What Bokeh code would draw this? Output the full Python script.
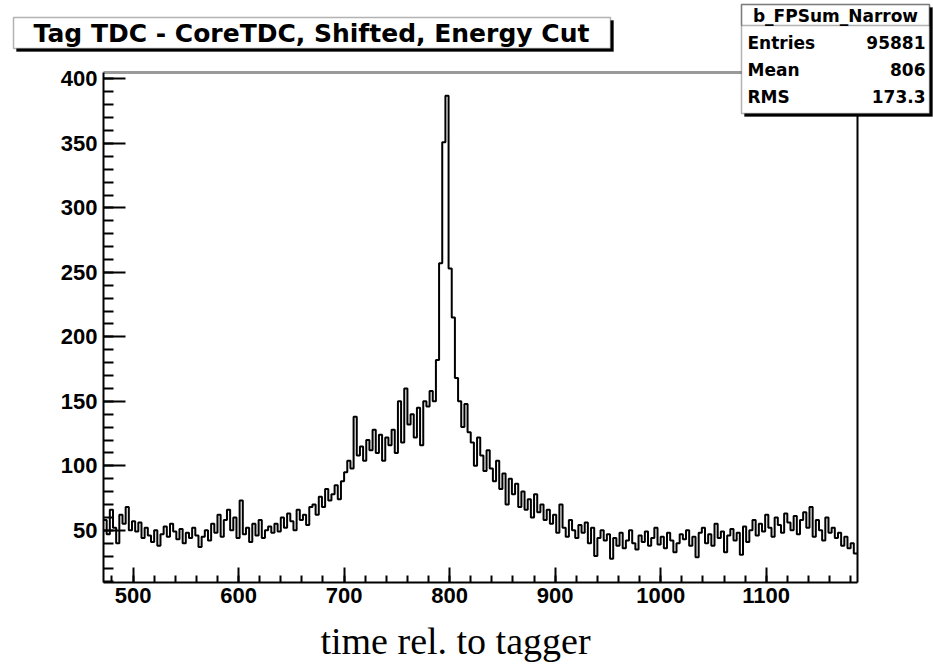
from bokeh.plotting import figure
from bokeh.models import (SingleIntervalTicker, FixedTicker, LinearAxis, Range1d,
                          BoxAnnotation, Label)
from bokeh.embed import file_html
from bokeh.resources import INLINE

# ---------------- data ----------------
bin_start = 472
bin_width = 3
counts = [
    # 472-502
    58, 47, 66, 52, 40, 62, 55, 68, 50, 57,
    # 502-571
    49, 56, 44, 52, 46, 41, 50, 38, 47, 53, 45, 55, 49, 43, 51, 40, 48, 44, 52, 46, 37, 45, 50,
    # 571-607
    42, 55, 48, 62, 45, 58, 66, 50, 60, 44, 73, 47,
    # 607-634
    52, 41, 55, 46, 58, 44, 50, 53, 48,
    # 634-670
    55, 49, 60, 52, 63, 57, 50, 66, 58, 62, 54, 68,
    # 670-700
    70, 62, 76, 68, 82, 73, 78, 85, 74, 88,
    # 700-748
    95, 104, 98, 138, 108, 115, 104, 120, 112, 128, 110, 124, 104, 122, 116, 128,
    # 748-766
    110, 150, 118, 160, 132, 140,
    # 766-784
    122, 145, 116, 150, 146, 158,
    # 784-808 (peak)
    150, 182, 257, 351, 387, 253, 215, 168,
    # 808-820
    150, 130, 148, 126,
    # 820-838
    118, 100, 122, 108, 96, 112,
    # 838-868
    98, 88, 104, 82, 94, 70, 90, 78, 86, 68,
    # 868-892
    80, 66, 74, 60, 78, 64, 70, 58,
    # 892-925
    66, 55, 62, 48, 70, 52, 45, 58, 50, 44, 54,
    # 925-952
    48, 56, 40, 52, 30, 44, 50, 42, 47,
    # 952-1039
    28, 44, 38, 48, 36, 42, 50, 40, 35, 46, 41, 49, 38, 44, 52, 39, 45, 36, 48, 42, 33, 40, 47, 43, 50, 38, 45, 29, 48,
    # 1039-1084
    52, 40, 47, 38, 55, 44, 49, 33, 46, 51, 42, 48, 31, 53, 41,
    # 1084-1135
    50, 58, 46, 55, 49, 62, 52, 45, 60, 54, 48, 63, 56, 50, 61, 47, 58,
    # 1135-1162
    64, 52, 68, 45, 58, 50, 42, 60, 48,
    # 1162-1186
    52, 44, 48, 38, 45, 36, 40, 32,
]
x_tick_interval = 100
y_tick_interval = 50
title_text = "Tag TDC - CoreTDC, Shifted, Energy Cut"
stats_name = "b_FPSum_Narrow"
stats_labels = ["Entries", "Mean", "RMS"]
stats_values = ["95881", "806", "173.3"]
x_label_text = "time rel. to tagger"

# ---------------- geometry ----------------
X0, X1 = 472, 1186.5          # histogram frame range
Y0, Y1 = 9.5, 405
W, H = 933, 667
FL, FR, FT, FB = 103, 857, 72, 582   # frame position on the page (px)


def dx(px):
    return X0 + (px - FL) * (X1 - X0) / (FR - FL)


def dy(py):
    return Y1 - (py - FT) * (Y1 - Y0) / (FB - FT)


edges = [bin_start + bin_width * i for i in range(len(counts) + 1)]
ys = counts + [counts[-1]]

# the canvas-wide frame lets the boxes and labels outside the histogram area show
p = figure(width=W, height=H, x_range=Range1d(dx(0), dx(W)), y_range=Range1d(dy(H), dy(0)),
           output_backend="svg", toolbar_location=None,
           min_border=0, min_border_left=0, min_border_right=0,
           min_border_top=0, min_border_bottom=0,
           background_fill_color="white", border_fill_color="white")
p.title.visible = False
p.outline_line_color = None
p.xgrid.visible = False
p.ygrid.visible = False

tick_font = "Liberation Sans"

xa = p.xaxis[0]
xa.fixed_location = Y0
xa.bounds = (X0, X1)
xa.ticker = SingleIntervalTicker(interval=x_tick_interval, num_minor_ticks=5)
xa.axis_line_width = 2
xa.axis_line_color = "black"
xa.major_tick_in = 15
xa.major_tick_out = 0
xa.minor_tick_in = 7
xa.minor_tick_out = 0
xa.major_tick_line_width = 2
xa.minor_tick_line_width = 2
xa.major_label_standoff = 5
xa.major_label_text_font = tick_font
xa.major_label_text_font_style = "bold"
xa.major_label_text_font_size = "22px"
xa.major_label_text_color = "black"

ya = p.yaxis[0]
ya.fixed_location = X0
ya.bounds = (Y0, Y1)
ya.ticker = SingleIntervalTicker(interval=y_tick_interval, num_minor_ticks=5)
ya.axis_line_width = 2
ya.axis_line_color = "black"
ya.major_tick_in = 22
ya.major_tick_out = 0
ya.minor_tick_in = 10
ya.minor_tick_out = 0
ya.major_tick_line_width = 2
ya.minor_tick_line_width = 2
ya.major_label_standoff = 6
ya.major_label_text_font = tick_font
ya.major_label_text_font_style = "bold"
ya.major_label_text_font_size = "22px"
ya.major_label_text_color = "black"

right_axis = LinearAxis(ticker=FixedTicker(ticks=[]), fixed_location=X1, bounds=(Y0, Y1),
                        axis_line_width=2, axis_line_color="black",
                        major_tick_line_color=None, minor_tick_line_color=None,
                        major_label_text_color=None)
p.add_layout(right_axis, "right")
top_axis = LinearAxis(ticker=FixedTicker(ticks=[]), fixed_location=Y1, bounds=(X0, X1),
                      axis_line_width=3, axis_line_color="#9a9a9a",
                      major_tick_line_color=None, minor_tick_line_color=None,
                      major_label_text_color=None)
p.add_layout(top_axis, "above")

# histogram
p.step(x=edges, y=ys, mode="after", line_color="black", line_width=2)

# title box
p.add_layout(BoxAnnotation(left=dx(16), right=dx(613), top=dy(20), bottom=dy(51),
                           fill_color="black", fill_alpha=1, line_color="black"))
p.add_layout(BoxAnnotation(left=dx(13), right=dx(610), top=dy(17), bottom=dy(48),
                           fill_color="white", fill_alpha=1, line_color="black",
                           line_width=1.5))
p.add_layout(Label(x=dx(311), y=dy(33), text=title_text, text_align="center",
                   text_baseline="middle", text_font="DejaVu Sans",
                   text_font_style="bold", text_font_size="25px", text_color="black"))

# stats box
p.add_layout(BoxAnnotation(left=dx(744), right=dx(932), top=dy(7), bottom=dy(116),
                           fill_color="black", fill_alpha=1, line_color="black"))
p.add_layout(BoxAnnotation(left=dx(741), right=dx(929), top=dy(4), bottom=dy(113),
                           fill_color="white", fill_alpha=1, line_color="black",
                           line_width=1.5))
p.add_layout(BoxAnnotation(left=dx(741), right=dx(929), top=dy(4), bottom=dy(25),
                           fill_color="white", fill_alpha=0, line_color="black",
                           line_width=1.5))
stat_font = "DejaVu Sans"
p.add_layout(Label(x=dx(835), y=dy(15), text=stats_name, text_align="center",
                   text_baseline="middle", text_font=stat_font,
                   text_font_style="bold", text_font_size="17px", text_color="black"))
row_py = [42, 69, 96]
for lab, val, py in zip(stats_labels, stats_values, row_py):
    p.add_layout(Label(x=dx(747), y=dy(py), text=lab, text_align="left",
                       text_baseline="middle", text_font=stat_font,
                       text_font_style="bold", text_font_size="17px", text_color="black"))
    p.add_layout(Label(x=dx(925), y=dy(py), text=val, text_align="right",
                       text_baseline="middle", text_font=stat_font,
                       text_font_style="bold", text_font_size="17px", text_color="black"))

# x axis title
p.add_layout(Label(x=dx(455), y=dy(640), text=x_label_text, text_align="center",
                   text_baseline="middle", text_font="Liberation Serif",
                   text_font_size="38px", text_color="black"))

open("out.html", "w").write(file_html(p, INLINE))
